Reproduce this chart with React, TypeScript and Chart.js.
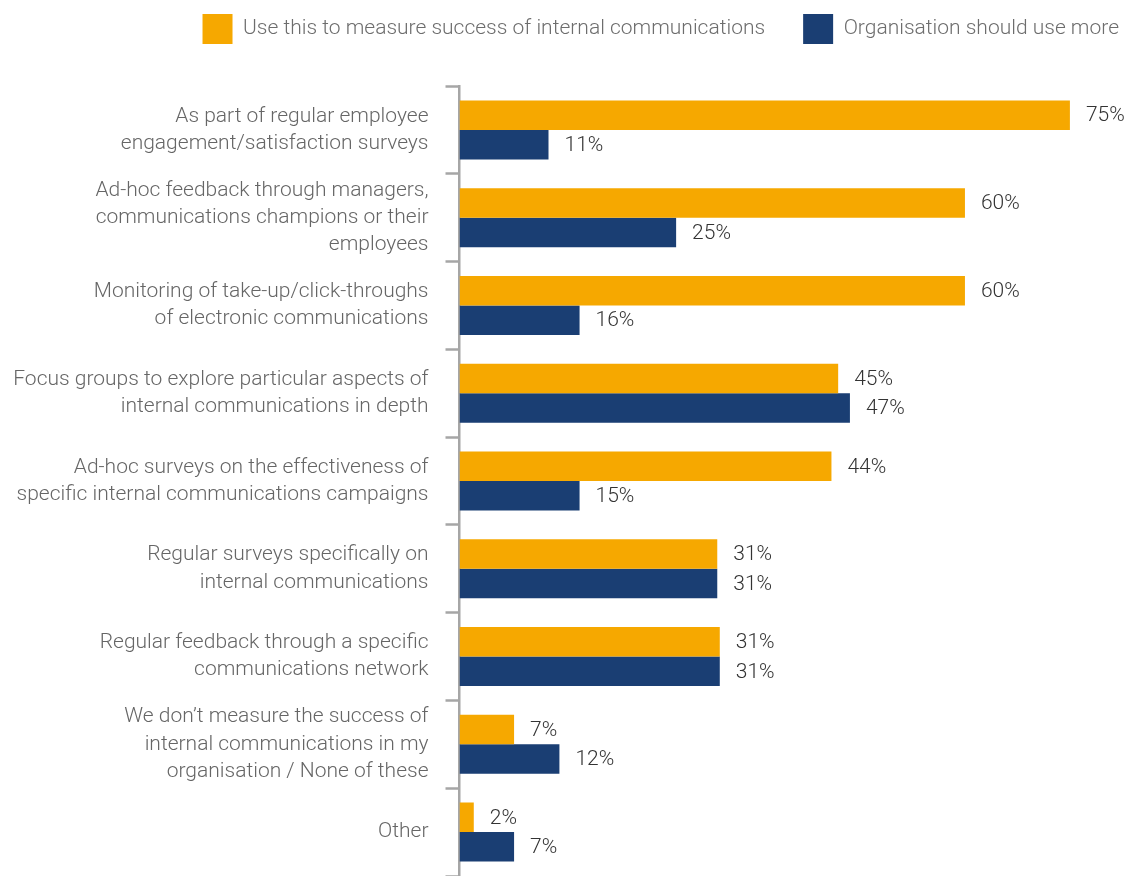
import React, { useEffect, useRef } from "react";
import { Chart, registerables } from "chart.js";

Chart.register(...registerables);

const categories: string[][] = [
  ["As part of regular employee", "engagement/satisfaction surveys"],
  ["Ad-hoc feedback through managers,", "communications champions or their", "employees"],
  ["Monitoring of take-up/click-throughs", "of electronic communications"],
  ["Focus groups to explore particular aspects of", "internal communications in depth"],
  ["Ad-hoc surveys on the effectiveness of", "specific internal communications campaigns"],
  ["Regular surveys specifically on", "internal communications"],
  ["Regular feedback through a specific", "communications network"],
  ["We don\u2019t measure the success of", "internal communications in my", "organisation / None of these"],
  ["Other"],
];

const seriesNames = ["Use this to measure success of internal communications", "Organisation should use more"];

// bar lengths as drawn in the picture
const measureValues = [72.7, 60.2, 60.2, 45.1, 44.3, 30.7, 31.0, 6.5, 1.7];
const moreValues = [10.6, 25.8, 14.3, 46.5, 14.3, 30.7, 31.0, 11.9, 6.5];

// printed value labels
const measureLabels = ["75%", "60%", "60%", "45%", "44%", "31%", "31%", "7%", "2%"];
const moreLabels = ["11%", "25%", "16%", "47%", "15%", "31%", "31%", "12%", "7%"];

const FONT = "Roboto";

export default function App() {
  const ref = useRef<HTMLCanvasElement | null>(null);

  useEffect(() => {
    if (!ref.current) return;
    const labelsets = [measureLabels, moreLabels];

    const valueLabelPlugin = {
      id: "valueLabels",
      afterDatasetsDraw(chart: any) {
        const ctx = chart.ctx;
        ctx.save();
        ctx.font = `300 21px ${FONT}`;
        ctx.fillStyle = "#333333";
        ctx.textAlign = "left";
        ctx.textBaseline = "middle";
        chart.data.datasets.forEach((_ds: any, di: number) => {
          const meta = chart.getDatasetMeta(di);
          meta.data.forEach((bar: any, i: number) => {
            ctx.fillText(labelsets[di][i], bar.x + 16, bar.y + 1);
          });
        });
        ctx.restore();
      },
    };

    const legendSpacePlugin = {
      id: "legendSpace",
      beforeInit(chart: any) {
        const legend = chart.legend;
        if (!legend) return;
        const orig = legend.fit;
        legend.fit = function () {
          orig.call(this);
          this.height += 32;
        };
      },
    };

    const chart = new Chart(ref.current, {
      type: "bar",
      data: {
        labels: categories,
        datasets: [
          {
            label: seriesNames[0],
            data: measureValues,
            backgroundColor: "#F6A800",
            borderWidth: 0,
            categoryPercentage: 0.672,
            barPercentage: 1.0,
          },
          {
            label: seriesNames[1],
            data: moreValues,
            backgroundColor: "#1A3E73",
            borderWidth: 0,
            categoryPercentage: 0.672,
            barPercentage: 1.0,
          },
        ],
      },
      options: {
        indexAxis: "y",
        animation: false,
        responsive: true,
        maintainAspectRatio: false,
        layout: { autoPadding: false, padding: { top: -24, right: -30, bottom: 0, left: 0 } },
        plugins: {
          tooltip: { enabled: false },
          legend: {
            position: "top",
            align: "end",
            labels: {
              boxWidth: 30,
              boxHeight: 30,
              padding: 38,
              color: "#6d6d6d",
              font: { family: FONT, size: 21, weight: "300" },
            },
          },
        },
        scales: {
          x: {
            display: false,
            min: 0,
            max: 79.5,
          },
          y: {
            afterFit(scale: any) {
              scale.width = 459.5;
              scale.paddingTop = 0;
              scale.paddingBottom = 0;
            },
            border: { display: true, color: "#a6a6a6", width: 2.5 },
            grid: {
              display: true,
              drawOnChartArea: false,
              drawTicks: true,
              tickLength: 14,
              tickWidth: 2.5,
              color: "#a6a6a6",
              offset: true,
            },
            ticks: {
              padding: 17,
              color: "#666666",
              font: { family: FONT, size: 21, weight: "300", lineHeight: 1.29 },
            },
          },
        },
      },
      plugins: [valueLabelPlugin, legendSpacePlugin],
    });
    return () => chart.destroy();
  }, []);

  return (
    <div style={{ position: "absolute", left: 0, top: 0, width: 1127, height: 876 }}>
      <canvas ref={ref} />
    </div>
  );
}
